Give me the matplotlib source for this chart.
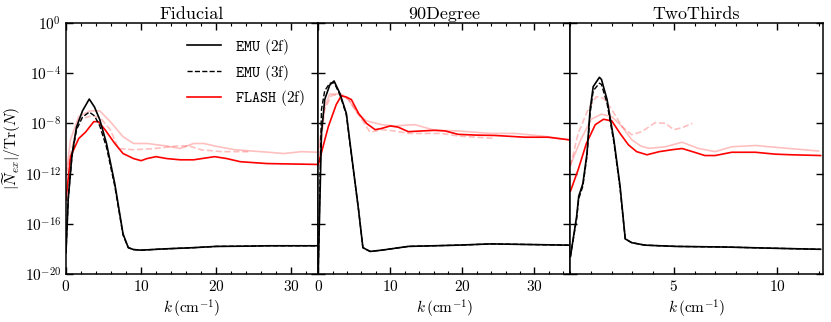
import numpy as np
import matplotlib
matplotlib.use("Agg")
import matplotlib.pyplot as plt
from matplotlib.ticker import MultipleLocator, FixedLocator, NullLocator

plt.rcParams['font.family'] = 'serif'
plt.rcParams['font.serif'] = ['cmr10']
plt.rcParams['mathtext.fontset'] = 'cm'
plt.rcParams['axes.formatter.use_mathtext'] = True
plt.rcParams['font.size'] = 11

# ---- data: k in cm^-1, values as log10 of |N_ex|/Tr(N) ----
# Fiducial
fid_k_emu = [0, 0.3, 0.8, 1.4, 2.2, 3.1, 3.8, 4.5, 5.4, 6.5, 7.6, 8.3, 9, 10, 13, 17, 20, 24, 27, 30, 33.6]
fid_emu2 = [-18.3, -14, -10.5, -8.3, -7, -6.06, -6.7, -7.7, -9.6, -12.8, -16.8, -17.9, -18.05, -18.1, -18.0, -17.9, -17.8, -17.78, -17.75, -17.75, -17.75]
fid_emu3 = [-18.3, -14, -10.6, -8.5, -7.5, -7.1, -7.4, -8.2, -9.9, -13.0, -16.9, -17.9, -18.05, -18.1, -18.0, -17.9, -17.8, -17.78, -17.75, -17.75, -17.75]
fid_k_fl2 = [0, 0.6, 1.7, 2.6, 3.7, 4.3, 5.2, 6.5, 7.6, 9, 10, 10.8, 12, 13.4, 15.2, 17, 19.8, 21.4, 23.2, 26.8, 33.6]
fid_fl2 = [-14.1, -10.65, -9.2, -8.7, -7.86, -7.86, -8.5, -9.6, -10.4, -10.8, -10.97, -10.8, -10.65, -10.8, -10.9, -10.9, -10.65, -10.8, -11.05, -11.2, -11.27]
fid_k_fl3 = [0, 0.6, 1.7, 3.2, 4.5, 5.9, 7.6, 9, 10.8, 13.4, 15.2, 17, 18.4, 19.8, 22.5, 27, 29, 31.4, 33.6]
fid_fl3 = [-12.2, -9.3, -7.46, -7.0, -7.0, -7.86, -9.06, -9.6, -9.6, -9.8, -10.0, -9.6, -9.6, -9.8, -10.1, -10.3, -10.4, -10.25, -10.3]
fid_k_fl3d = [0, 1.7, 3.4, 4.5, 5.9, 7.0, 9, 11.9, 14.8, 16.4, 18, 20.7, 24.4]
fid_fl3d = [-12.0, -7.7, -7.4, -7.5, -8.5, -10.0, -10.1, -10.0, -9.8, -9.8, -10.1, -10.25, -10.25]

# 90Degree
deg_k_emu = [0, 0.45, 0.9, 1.6, 2.2, 3.0, 3.9, 4.6, 5.6, 6.2, 7.2, 8.8, 12.5, 19.4, 24, 34.7]
deg_emu2 = [-19.9, -8.8, -6.1, -4.94, -4.62, -5.6, -7.2, -10.4, -14.9, -17.9, -18.2, -18.1, -17.8, -17.7, -17.6, -17.7]
deg_emu3 = [-19.9, -6.9, -5.4, -4.8, -4.75, -5.7, -7.3, -10.5, -14.9, -17.9, -18.2, -18.1, -17.8, -17.7, -17.6, -17.7]
deg_k_fl2 = [0, 1.4, 2.5, 3.2, 3.9, 4.6, 5.6, 6.7, 7.9, 8.8, 10, 11.1, 12.5, 14.4, 16.2, 17.6, 19.4, 21.8, 24.5, 28.7, 31.9, 34.7]
deg_fl2 = [-11.3, -8.26, -6.5, -5.8, -5.9, -6.1, -7.2, -8.0, -8.5, -8.4, -8.2, -8.3, -8.66, -8.6, -8.55, -8.6, -8.87, -8.93, -8.96, -9.1, -9.1, -9.3]
deg_k_fl3 = [0, 0.9, 1.6, 3.2, 4.2, 5.6, 6.7, 8.8, 10.6, 13.4, 16.2, 19.4, 24, 27.3, 31, 34.7]
deg_fl3 = [-10.25, -6.67, -5.66, -5.66, -6.1, -7.3, -7.8, -8.1, -8.2, -8.1, -8.55, -8.6, -8.8, -8.8, -9.0, -9.3]
deg_k_fl3d = [0, 0.9, 1.8, 3.0, 4.2, 5.6, 7.2, 8.8, 10.6, 12.5, 17.1, 19.4, 24.5]
deg_fl3d = [-11.4, -6.9, -5.8, -5.66, -6.1, -7.3, -8.7, -8.5, -8.6, -8.8, -8.8, -9.0, -9.2]

# TwoThirds
tt_k_emu = [0, 0.3, 0.4, 0.6, 0.8, 0.95, 1.1, 1.4, 1.5, 1.77, 2.1, 2.4, 2.65, 2.96, 3.6, 5.1, 7.5, 9.9, 12.1]
tt_emu2 = [-18.6, -15.4, -13.8, -12.8, -10.4, -6.9, -5.07, -4.33, -4.5, -6.1, -9.3, -13.0, -17.2, -17.5, -17.7, -17.8, -17.85, -17.95, -18.03]
tt_emu3 = [-18.6, -15.6, -14.0, -13.0, -10.6, -7.2, -5.4, -4.8, -4.9, -6.4, -9.5, -13.2, -17.2, -17.5, -17.7, -17.8, -17.85, -17.95, -18.03]
tt_k_fl2 = [0, 0.37, 0.77, 1.2, 1.6, 2.0, 2.4, 2.8, 3.2, 3.7, 4.3, 4.9, 5.4, 5.9, 6.5, 7.0, 7.8, 8.95, 9.9, 10.7, 12.1]
tt_fl2 = [-13.4, -11.7, -9.6, -8.1, -7.67, -7.8, -8.8, -9.7, -10.25, -10.5, -10.25, -10.1, -10.0, -10.25, -10.56, -10.56, -10.3, -10.3, -10.45, -10.5, -10.56]
tt_k_fl3 = [0, 0.5, 1.0, 1.5, 2.0, 2.5, 2.96, 3.4, 3.8, 4.6, 5.4, 6.2, 7.0, 7.8, 8.95, 9.9, 12.0]
tt_fl3 = [-11.3, -9.3, -7.67, -7.27, -7.46, -8.26, -9.3, -9.8, -9.99, -9.86, -9.5, -10.0, -10.25, -9.86, -9.76, -9.9, -10.2]
tt_k_fl3d = [0, 0.37, 0.85, 1.25, 1.6, 2.0, 2.5, 2.96, 3.45, 4.1, 4.6, 5.0, 5.4, 5.9]
tt_fl3d = [-11.4, -8.8, -6.9, -5.87, -6.0, -6.9, -8.26, -8.9, -8.66, -7.94, -8.0, -8.5, -8.34, -8.0]

titles = ['Fiducial', '90Degree', 'TwoThirds']
xlims = [(0, 33.6), (0, 35), (0, 12.2)]

panels = [
    (fid_k_emu, fid_emu2, fid_emu3, fid_k_fl2, fid_fl2, fid_k_fl3, fid_fl3, fid_k_fl3d, fid_fl3d),
    (deg_k_emu, deg_emu2, deg_emu3, deg_k_fl2, deg_fl2, deg_k_fl3, deg_fl3, deg_k_fl3d, deg_fl3d),
    (tt_k_emu, tt_emu2, tt_emu3, tt_k_fl2, tt_fl2, tt_k_fl3, tt_fl3, tt_k_fl3d, tt_fl3d),
]

fig, axes = plt.subplots(1, 3, figsize=(8.31, 3.22), dpi=100, sharey=True)
fig.subplots_adjust(left=0.0794, right=0.990, bottom=0.149, top=0.9286, wspace=0)

for i, ax in enumerate(axes):
    ke, e2, e3, kf2, f2, kf3, f3, kf3d, f3d = panels[i]
    ax.plot(kf3, 10**np.array(f3), color='red', alpha=0.25, lw=1.2)
    ax.plot(kf3d, 10**np.array(f3d), color='red', alpha=0.25, lw=1.2, ls='--')
    ax.plot(kf2, 10**np.array(f2), color='red', lw=1.2, label=r'$\mathtt{FLASH}$ (2f)')
    ax.plot(ke, 10**np.array(e3), color='black', lw=1.0, ls='--', label=r'$\mathtt{EMU}$ (3f)')
    ax.plot(ke, 10**np.array(e2), color='black', lw=1.2, label=r'$\mathtt{EMU}$ (2f)')
    ax.set_yscale('log')
    ax.set_ylim(1e-20, 1e0)
    ax.set_xlim(*xlims[i])
    ax.yaxis.set_major_locator(FixedLocator([10.0**p for p in range(-20, 1, 4)]))
    ax.yaxis.set_minor_locator(NullLocator())
    if i < 2:
        ax.xaxis.set_major_locator(MultipleLocator(10))
        ax.xaxis.set_minor_locator(MultipleLocator(2))
    else:
        ax.set_xticks([5, 10])
        ax.xaxis.set_minor_locator(MultipleLocator(1))
    ax.tick_params(which='both', direction='in', top=True, right=True)
    ax.tick_params(which='major', length=5, width=1)
    ax.tick_params(which='minor', length=2.5, width=0.8)
    for s in ax.spines.values():
        s.set_linewidth(1.1)
    ax.set_title(titles[i], fontsize=13, pad=3)
    ax.set_xlabel(r'$k\,(\mathrm{cm}^{-1})$', labelpad=3)

axes[0].set_ylabel(r'$|\widetilde{N}_{ex}|/\mathrm{Tr}(N)$', labelpad=1)
h, l = axes[0].get_legend_handles_labels()
axes[0].legend([h[2], h[1], h[0]], [l[2], l[1], l[0]], loc='upper right', frameon=False,
               fontsize=11, handlelength=2.2, handletextpad=0.9, labelspacing=0.38,
               borderaxespad=0.5)

fig.savefig('out.png', dpi=100)
